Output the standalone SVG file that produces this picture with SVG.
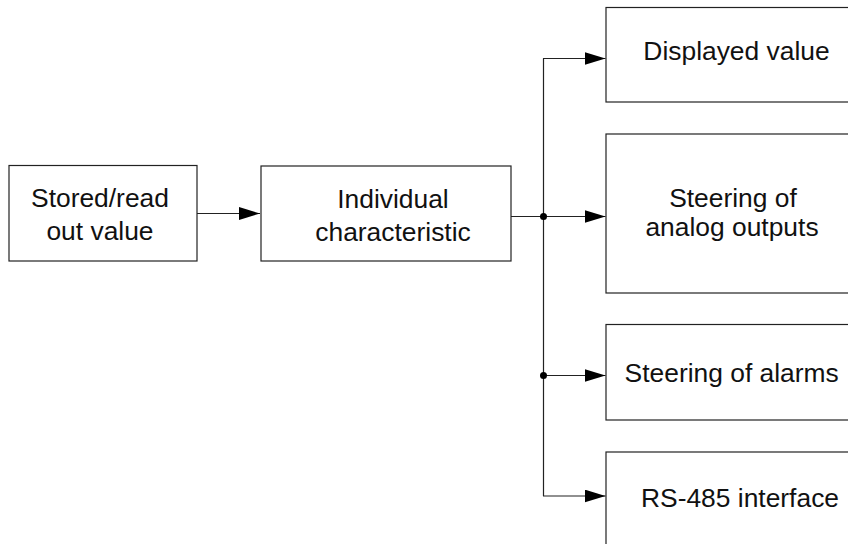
<svg xmlns="http://www.w3.org/2000/svg" width="848" height="544" viewBox="0 0 848 544">
<style>
.box{fill:#fff;stroke:#222;stroke-width:1.2}
.lbl{font-family:"Liberation Sans",Arial,sans-serif;font-size:26.4px;fill:#111;text-anchor:middle}
.wire{fill:none;stroke:#222;stroke-width:1.2}
.dot{fill:#000}
</style>
<defs>
<marker id="arr" markerUnits="userSpaceOnUse" markerWidth="22" markerHeight="14" refX="21" refY="6.5" orient="auto">
<path d="M0,0 L21,6.5 L0,13 z" fill="#000"/>
</marker>
</defs>
<rect width="848" height="544" fill="#fff"/>
<g id="n1"><rect class="box" x="9" y="165.5" width="188" height="95.5"/>
<text class="lbl" x="100" y="206.5">Stored/read</text><text class="lbl" x="100" y="239.5">out value</text></g>
<g id="n2"><rect class="box" x="261" y="166" width="250" height="95"/>
<text class="lbl" x="393" y="207.5">Individual</text><text class="lbl" x="393" y="240.5">characteristic</text></g>
<g id="n3"><rect class="box" x="606" y="7.5" width="270" height="94.5"/>
<text class="lbl" x="736.5" y="60">Displayed value</text></g>
<g id="n4"><rect class="box" x="606" y="134" width="270" height="159"/>
<text class="lbl" x="733" y="206.5">Steering of</text><text class="lbl" x="732" y="235.5">analog outputs</text></g>
<g id="n5"><rect class="box" x="606" y="324.5" width="270" height="95.5"/>
<text class="lbl" x="731.7" y="382">Steering of alarms</text></g>
<g id="n6"><rect class="box" x="606" y="452" width="270" height="110"/>
<text class="lbl" x="740" y="507">RS-485 interface</text></g>
<g id="connectors">
<line class="wire" x1="197" y1="213.5" x2="260" y2="213.5" marker-end="url(#arr)"/>
<line class="wire" x1="511" y1="216.5" x2="605.5" y2="216.5" marker-end="url(#arr)"/>
<line class="wire" x1="543.5" y1="58.5" x2="543.5" y2="496"/>
<line class="wire" x1="543" y1="58.5" x2="605.5" y2="58.5" marker-end="url(#arr)"/>
<line class="wire" x1="543.5" y1="375.5" x2="605.5" y2="375.5" marker-end="url(#arr)"/>
<line class="wire" x1="543" y1="496" x2="605.5" y2="496" marker-end="url(#arr)"/>
<circle class="dot" cx="543.5" cy="216.5" r="3.5"/>
<circle class="dot" cx="543.5" cy="375.5" r="3.5"/>
</g>
</svg>
